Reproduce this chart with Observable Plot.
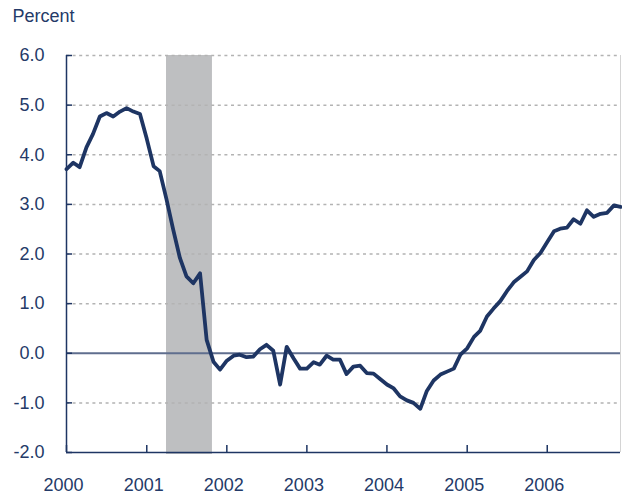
<!DOCTYPE html>
<html>
<head>
<meta charset="utf-8">
<script src="https://cdn.jsdelivr.net/npm/d3@7"></script>
<script src="https://cdn.jsdelivr.net/npm/@observablehq/plot@0.6"></script>
<style>
  html, body { margin: 0; padding: 0; background: #ffffff; }
  #chart svg { display: block; }
</style>
</head>
<body>
<div id="chart"></div>
<script>
// ---- data ----
const years = [2000, 2001, 2002, 2003, 2004, 2005, 2006];
const values2000 = [3.71, 3.84, 3.75, 4.15, 4.42, 4.77, 4.84, 4.77, 4.87, 4.94, 4.87, 4.82];
const values2001 = [4.32, 3.77, 3.67, 3.10, 2.50, 1.92, 1.55, 1.41, 1.61, 0.27, -0.17, -0.33];
const values2002 = [-0.15, -0.05, -0.03, -0.08, -0.07, 0.08, 0.17, 0.05, -0.63, 0.13, -0.10, -0.31];
const values2003 = [-0.31, -0.18, -0.23, -0.05, -0.13, -0.13, -0.42, -0.27, -0.25, -0.40, -0.41, -0.52];
const values2004 = [-0.63, -0.71, -0.87, -0.95, -1.00, -1.12, -0.76, -0.55, -0.43, -0.37, -0.31, -0.03];
const values2005 = [0.10, 0.33, 0.45, 0.74, 0.90, 1.05, 1.25, 1.43, 1.54, 1.65, 1.88, 2.02];
const values2006 = [2.24, 2.46, 2.51, 2.53, 2.70, 2.61, 2.88, 2.75, 2.81, 2.83, 2.98, 2.95];
const yearValues = [values2000, values2001, values2002, values2003, values2004, values2005, values2006];

const yTicks = [-2, -1, 0, 1, 2, 3, 4, 5, 6];
const gridValues = [-1, 1, 2, 3, 4, 5, 6];
const yearTickLabels = ["2000", "2001", "2002", "2003", "2004", "2005", "2006"];
const recessionStart = [2001, 3];  // April 2001 (year, month index)
const recessionEnd = [2001, 10];   // November 2001
const yLabel = "Percent";

// ---- build table ----
const monthDate = (y, m) => new Date(Date.UTC(y, m, 1));
const series = [];
years.forEach((y, i) => yearValues[i].forEach((v, m) => series.push({date: monthDate(y, m), value: v})));
const xStart = series[0].date;
const xEnd = series[series.length - 1].date;
const yearDates = years.map(y => monthDate(y, 0));
const recession = [{x1: monthDate(...recessionStart), x2: monthDate(...recessionEnd)}];

const navy = "#1e3563";
const textColor = "#243a68";
const font = "'Liberation Sans', Arial, Helvetica, sans-serif";

const chart = Plot.plot({
  width: 622,
  height: 499,
  marginLeft: 66,
  marginRight: 2,
  marginTop: 55,
  marginBottom: 47,
  style: {fontFamily: font, fontSize: "18px", color: textColor, background: "#ffffff"},
  x: {type: "utc", domain: [xStart, xEnd], axis: null, label: null},
  y: {domain: [-2, 6], axis: null, label: null},
  marks: [
    // recession shading
    Plot.rectX(recession, {x1: "x1", x2: "x2", y1: -2, y2: 6, fill: "#bebfc1", insetBottom: -2, insetRight: 1}),
    // dotted gridlines
    Plot.ruleY(gridValues, {stroke: "#b3b3b3", strokeWidth: 1.5, strokeDasharray: "3,3.6"}),
    // right edge
    Plot.ruleX([xEnd], {y1: -2, y2: 6, stroke: "#d4d4d4", strokeWidth: 1}),
    // zero line
    Plot.ruleY([0], {stroke: "#5f6e8e", strokeWidth: 2}),
    // y axis ticks (inside) and labels
    Plot.axisY({ticks: yTicks, tickSize: -6, tickFormat: () => "", stroke: navy, strokeWidth: 1.5, label: null}),
    Plot.axisY({ticks: yTicks, tickSize: 0, tickPadding: 22, tickFormat: d => d.toFixed(1), fill: textColor, fontSize: 18, label: null}),
    // x axis ticks (inside, upward) and labels
    Plot.axisX({ticks: yearDates, tickSize: -7, tickFormat: () => "", stroke: navy, strokeWidth: 1.5, label: null}),
    Plot.axisX({ticks: yearDates, tickSize: 0, tickPadding: 26, dx: -3, tickFormat: (d, i) => yearTickLabels[i], fill: textColor, fontSize: 18, label: null}),
    // axis lines
    Plot.ruleX([xStart], {stroke: navy, strokeWidth: 1.5}),
    Plot.ruleY([-2], {stroke: navy, strokeWidth: 1.5}),
    // the series
    Plot.line(series, {x: "date", y: "value", stroke: navy, strokeWidth: 3.8, strokeLinejoin: "round", strokeLinecap: "round"}),
    // "Percent" label
    Plot.text([yLabel], {frameAnchor: "top-left", text: d => d, dx: -54, dy: -34, lineAnchor: "bottom", textAnchor: "start", fill: textColor, fontSize: 18})
  ]
});
document.getElementById("chart").appendChild(chart);
</script>
</body>
</html>
